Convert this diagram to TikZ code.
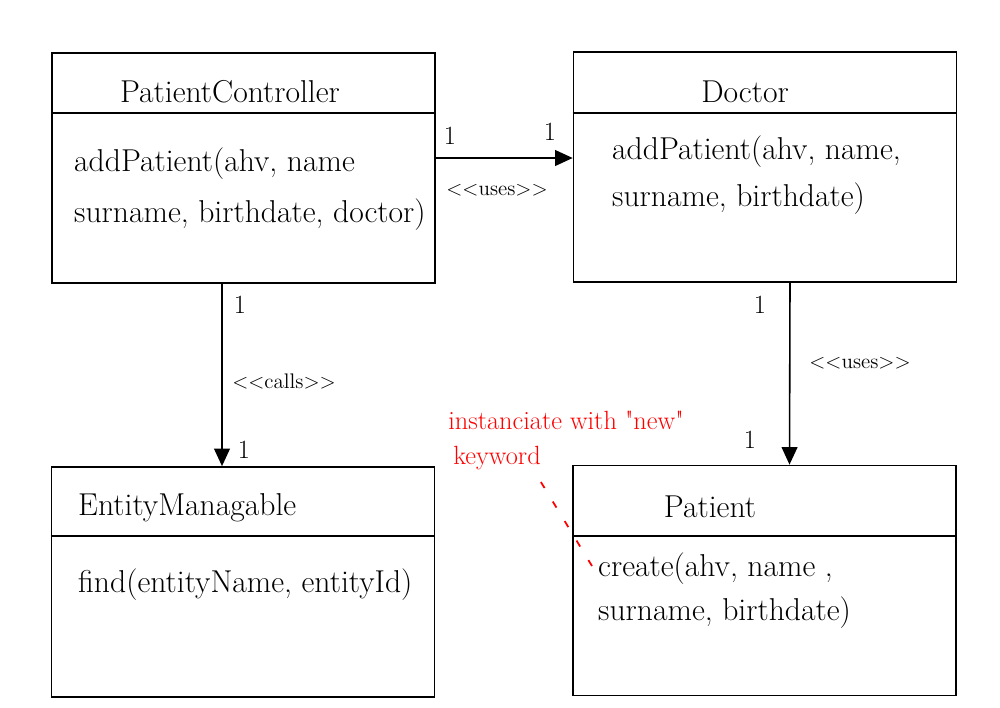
\documentclass[tikz,border=0pt]{standalone}
\usepackage{fontspec}
\setmainfont{Latin Modern Roman}[Ligatures=TeXOff]
\usepackage{xcolor}
\usetikzlibrary{positioning,arrows.meta,calc}
\tikzset{
    class box/.style={rectangle, draw, line width=1pt, minimum width=7.66cm, minimum height=4.6cm, inner sep=0pt},
    class name/.style={font=\fontsize{18}{21}\selectfont},
    method text/.style={font=\fontsize{18}{21}\selectfont, align=left, anchor=west},
    divider/.style={line width=1pt},
    assoc arrow/.style={-{Triangle[length=10pt,width=9pt]}, line width=0.9pt},
    mult label/.style={font=\fontsize{15}{18}\selectfont},
    stereo label/.style={font=\fontsize{12}{14}\selectfont},
    note text/.style={font=\fontsize{15}{18}\selectfont, text=red},
    note line/.style={red, line width=1pt, dashed, dash pattern=on 4pt off 9pt}
}

\begin{document}
\begin{tikzpicture}[x=0.02cm, y=-0.02cm]
    \useasboundingbox (0,0) rectangle (1000,707);

    % Class boxes
    \node[class box] (ctrl) at (243.5,168) {};
    \node[class box] (doc) at (765,167) {};
    \node[class box] (ent) at (243,582) {};
    \node[class box] (pat) at (764.5,580.5) {};

    % Dividers under the class names
    \draw[divider] ($(ctrl.north west)+(0,61)$) -- ($(ctrl.north east)+(0,61)$);
    \draw[divider] ($(doc.north west)+(0,62)$) -- ($(doc.north east)+(0,62)$);
    \draw[divider] ($(ent.north west)+(0,70)$) -- ($(ent.north east)+(0,70)$);
    \draw[divider] ($(pat.north west)+(0,71)$) -- ($(pat.north east)+(0,71)$);

    % Class names
    \node[class name] (ctrlname) at (230,92) {PatientController};
    \node[class name] (docname) at (745,92) {Doctor};
    \node[class name, anchor=west] (entname) at (72,508) {EntityManagable};
    \node[class name] (patname) at (710,507) {Patient};

    % Methods
    \node[method text] (ctrlop) at (68,189) {addPatient(ahv, name\\[8pt]surname, birthdate, doctor)};
    \node[method text] (docop) at (606,175) {addPatient(ahv, name,\\[6pt]surname, birthdate)};
    \node[method text] (entop) at (72,585) {find(entityName, entityId)};
    \node[method text] (patop) at (592,591) {create(ahv, name ,\\[4pt]surname, birthdate)};

    % Associations
    \draw[assoc arrow] ($(ctrl.east)+(0,-10)$) -- ($(doc.west)+(0,-9)$);
    \draw[assoc arrow] ($(ctrl.south)+(-21.5,0)$) -- ($(ent.north)+(-21,0)$);
    \draw[assoc arrow] ($(doc.south)+(25,0)$) -- ($(pat.north)+(25,0)$);

    % Multiplicities and stereotypes
    \node[mult label] (m1) at (450,136) {1};
    \node[mult label] (m2) at (550,132) {1};
    \node[stereo label] (s1) at (497,190) {<<uses>>};
    \node[mult label] (m3) at (240,305) {1};
    \node[stereo label] (s2) at (284,381) {<<calls>>};
    \node[mult label] (m4) at (244,450) {1};
    \node[mult label] (m5) at (760,305) {1};
    \node[stereo label] (s3) at (860,363) {<<uses>>};
    \node[mult label] (m6) at (750,440) {1};

    % Note
    \node[note text] (note) at (566,420) {instanciate with "new"};
    \node[note text] (kw) at (497,458) {keyword};
    \coordinate (hook) at (592,566);
    \draw[note line] ($(kw.south east)+(-6,6)$) -- (hook);
\end{tikzpicture}
\end{document}
